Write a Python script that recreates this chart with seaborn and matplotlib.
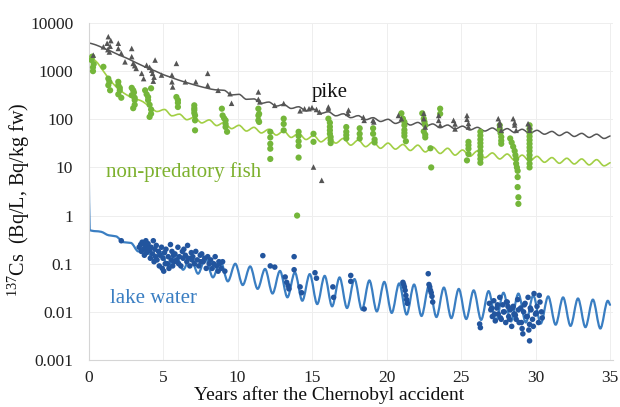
import matplotlib
matplotlib.use("Agg")
import matplotlib.pyplot as plt
from matplotlib.path import Path
from matplotlib.patches import PathPatch
import seaborn as sns
import numpy as np

# ---------------- data ----------------
# model line: lake water (Bq/L) - extrema of the seasonal wave
water_line_t = [0, 0.08, 0.85, 1.35, 1.85, 2.35, 2.85, 3.35, 3.85, 4.35, 4.85, 5.35, 5.85, 6.35,
                6.85, 7.35, 7.85, 8.35, 8.85, 9.35, 9.85, 10.35, 10.85, 11.35, 11.85, 12.35,
                12.85, 13.35, 13.85, 14.35, 14.85, 15.35, 15.85, 16.35, 16.85, 17.35, 17.85,
                18.35, 18.85, 19.35, 19.85, 20.35, 20.85, 21.35, 21.85, 22.35, 22.85, 23.35,
                23.85, 24.35, 24.85, 25.35, 25.85, 26.35, 26.85, 27.35, 27.85, 28.35, 28.85,
                29.35, 29.85, 30.35, 30.85, 31.35, 31.85, 32.35, 32.85, 33.35, 33.85, 34.35,
                34.85, 35.0]
water_line_v = [29, 0.5, 0.46, 0.39, 0.37, 0.28, 0.27, 0.18, 0.21, 0.12, 0.175, 0.09, 0.155, 0.075,
                0.14, 0.062, 0.13, 0.052, 0.115, 0.043, 0.1, 0.036, 0.088, 0.03, 0.078, 0.024,
                0.071, 0.02, 0.066, 0.017, 0.061, 0.0145, 0.056, 0.013, 0.052, 0.012, 0.048,
                0.011, 0.045, 0.0102, 0.042, 0.0095, 0.039, 0.0088, 0.037, 0.0082, 0.035, 0.0078,
                0.032, 0.0074, 0.03, 0.0071, 0.028, 0.0068, 0.027, 0.0066, 0.025, 0.0063, 0.024,
                0.006, 0.022, 0.0057, 0.021, 0.0054, 0.02, 0.0051, 0.019, 0.0048, 0.018, 0.0045,
                0.017, 0.014]

# model line: pike (Bq/kg fw)
pike_line_t = [0, 0.03, 0.5, 1, 1.5, 2, 2.5, 3, 3.5, 4, 4.5, 5, 5.5, 6, 6.5, 7, 7.5, 8, 8.5,
               9.1, 9.6, 10.1, 10.6, 11.1, 11.6, 12.1, 12.6, 13.1, 13.6, 14.1, 14.6, 15.1, 15.6,
               16.1, 16.6, 17.1, 17.6, 18.1, 18.6, 19.1, 19.6, 20.1, 20.6, 21.1, 21.6, 22.1, 22.6,
               23.1, 23.6, 24.1, 24.6, 25.1, 25.6, 26.1, 26.6, 27.1, 27.6, 28.1, 28.6, 29.1, 29.6,
               30.1, 30.6, 31.1, 31.6, 32.1, 32.6, 33.1, 33.6, 34.1, 34.6, 35.0]
pike_line_v = [900, 3800, 3500, 3000, 2600, 2200, 1900, 1600, 1350, 1150, 1000, 850, 750, 660,
               590, 530, 480, 440, 410, 400, 320, 330, 260, 265, 215, 228, 188, 203, 168, 182,
               150, 162, 133, 143, 118, 130, 108, 119, 98, 108, 90, 100, 82, 92, 76, 86, 71, 80,
               67, 76, 63, 72, 60, 68, 57, 66, 55, 64, 53, 62, 51, 59, 49, 56, 46, 54, 44, 51,
               42, 49, 40, 45]

# model line: non-predatory fish (Bq/kg fw)
fish_line_t = [0, 0.03, 0.5, 1.0, 1.5, 2.0, 2.5, 3.0, 3.5, 4.1, 4.6, 5.1, 5.6, 6.1, 6.6, 7.1,
               7.6, 8.1, 8.6, 9.1, 9.6, 10.1, 10.6, 11.1, 11.6, 12.1, 12.6, 13.1, 13.6, 14.1,
               14.6, 15.1, 15.6, 16.1, 16.6, 17.1, 17.6, 18.1, 18.6, 19.1, 19.6, 20.1, 20.6,
               21.1, 21.6, 22.1, 22.6, 23.1, 23.6, 24.1, 24.6, 25.1, 25.6, 26.1, 26.6, 27.1,
               27.6, 28.1, 28.6, 29.1, 29.6, 30.1, 30.6, 31.1, 31.6, 32.1, 32.6, 33.1, 33.6,
               34.1, 34.6, 35.0]
fish_line_v = [400, 2000, 1600, 1000, 620, 430, 330, 275, 245, 185, 145, 160, 118, 128, 98, 110,
               84, 97, 74, 86, 64, 75, 57, 68, 52, 62, 47, 57, 42, 51, 38, 46, 34, 42, 32, 40,
               29, 37, 27, 34, 25, 32, 24, 30, 22.5, 29, 21, 26.5, 19.5, 25, 18, 23, 17, 22,
               16, 20, 15, 19, 14, 18, 13.5, 17, 12.8, 16, 12.2, 15.5, 11.8, 15, 11.3, 14.5,
               10.8, 12.5]

# measurements: pike
pike_t = [0.32, 1.0, 1.25, 1.33, 1.3, 1.4, 1.45, 1.5, 2.0, 2.0, 2.2, 2.45, 2.9, 2.9, 3.0, 3.2,
          3.1, 3.57, 3.7, 3.9, 4.24, 4.3, 4.4, 4.1, 4.35, 4.47, 4.9, 5.6, 5.6, 5.65, 5.9, 6.5,
          7.2, 8.0, 8.0, 8.7, 9.5, 9.6, 11.4, 11.4, 11.5, 12.5, 13.1, 14.2, 14.5, 14.8, 15.0,
          15.3, 15.1, 15.65, 15.5, 16.1, 16.1, 17.4, 17.45, 18.45, 18.5, 19.1, 19.15, 20.8,
          21.0, 22.5, 22.5, 22.6, 23.5, 23.5, 23.6, 24.5, 24.6, 24.6, 25.4, 25.4, 25.5, 25.5,
          27.5, 27.6, 27.6, 27.7, 28.5, 28.6, 28.6, 28.7, 29.5, 29.6, 29.6]
pike_v = [2150, 3200, 3800, 5200, 2800, 2500, 3300, 4300, 3800, 2960, 2350, 1560, 2960, 2000,
          1450, 1140, 1300, 900, 700, 1330, 1050, 900, 750, 1200, 620, 1700, 830, 830, 600, 470,
          1450, 600, 600, 900, 510, 400, 340, 215, 370, 260, 230, 195, 213, 150, 165, 166, 175,
          160, 10.2, 5.4, 141, 166, 180, 133, 155, 110, 95, 95, 88, 120, 103, 133, 103, 69,
          120, 95, 75, 95, 80, 63, 120, 100, 82, 69, 103, 85, 76, 59, 103, 85, 76, 59, 81, 70, 59]

# measurements: non-predatory fish
fish_t = [0.2, 0.3, 0.3, 0.35, 0.25, 1.0, 1.33, 1.33, 1.45, 1.4, 2.0, 2.0, 2.1, 2.0, 2.2, 2.1,
          2.9, 3.0, 2.9, 3.1, 3.1, 3.0, 3.05, 3.1, 3.8, 3.9, 4.0, 4.1, 4.2, 4.1, 4.0, 4.2, 4.2,
          5.9, 6.0, 6.0, 6.0, 7.1, 7.1, 7.15, 7.15, 7.15, 7.1, 7.1, 8.95, 9.0, 9.2, 9.2, 9.3,
          9.1, 9.2, 11.4, 11.4, 11.4, 11.45, 11.45, 12.2, 12.2, 12.2, 12.2, 12.2, 13.1, 13.1,
          13.1, 14.1, 14.1, 14.1, 14.1, 14.1, 14.0, 15.1, 15.1, 16.1, 16.2, 16.2, 16.2, 16.25,
          16.25, 16.2, 16.25, 17.3, 17.3, 17.3, 17.3, 18.2, 18.2, 18.2, 19.1, 19.1, 19.2, 19.2,
          21.0, 21.1, 21.2, 21.2, 21.2, 21.3, 21.2, 21.2, 22.4, 22.5, 22.6, 22.5, 22.6, 22.55,
          22.6, 22.95, 23.0, 23.6, 23.6, 25.5, 25.5, 25.5, 25.4, 25.5, 26.3, 26.3, 26.3, 26.3,
          26.3, 26.3, 26.3, 26.3, 26.3, 27.6, 27.6, 27.65, 27.7, 27.7, 27.7, 28.3, 28.4, 28.5,
          28.6, 28.65, 28.7, 28.7, 28.75, 28.8, 28.8, 28.8, 28.85, 28.85, 29.6, 29.6, 29.6,
          29.6, 29.6, 29.6, 29.6, 29.6, 29.6, 29.6, 29.6, 29.6]
fish_v = [1700, 1200, 1000, 1400, 2000, 1230, 700, 510, 400, 600, 600, 510, 400, 330, 280, 450,
          450, 400, 316, 250, 200, 170, 360, 280, 400, 330, 250, 200, 130, 112, 290, 160, 440,
          290, 250, 180, 220, 195, 155, 120, 95, 59, 170, 135, 166, 120, 95, 69, 55, 105, 80,
          166, 120, 95, 130, 88, 55, 31, 24.5, 15, 42, 103, 59, 80, 55, 35, 16, 45, 28, 1.0, 50,
          34, 103, 85, 59, 50, 43, 37, 70, 32, 69, 55, 40, 47, 65, 50, 40, 65, 50, 38, 33, 133,
          103, 75, 60, 45, 35, 88, 52, 133, 103, 75, 56, 42, 88, 48, 25, 10, 166, 130, 34, 24.5,
          19, 14, 29, 55, 46, 38, 32, 27, 22, 18, 15, 12.5, 75, 63, 52, 43, 36, 31, 40, 33, 27,
          22, 18, 15, 12, 10, 8.5, 6.3, 3.9, 2.4, 1.75, 75, 63, 52, 44, 37, 31, 26, 22, 18, 15,
          12, 10]

# measurements: lake water
water_t = [2.2,
           3.4, 3.5, 3.55, 3.6, 3.7, 3.75, 3.8, 3.85, 3.9, 3.95,
           4.0, 4.1, 4.15, 4.2, 4.3, 4.35, 4.4, 4.45, 4.5, 4.55,
           4.6, 4.7, 4.75, 4.8, 4.9, 4.95, 5.0, 5.05, 5.1, 5.15,
           5.2, 5.3, 5.35, 5.4, 5.5, 5.55, 5.6, 5.65, 5.7, 5.75,
           5.8, 5.9, 6.0, 6.05, 6.1, 6.2, 6.3, 6.35,
           6.4, 6.5, 6.6, 6.65, 6.7, 6.8, 6.9, 6.95,
           7.0, 7.1, 7.2, 7.3, 7.4, 7.5, 7.55,
           7.6, 7.7, 7.8, 7.9, 8.0, 8.1,
           8.2, 8.3, 8.4, 8.5, 8.6, 8.7, 8.75,
           8.8, 8.9, 9.0, 9.15,
           11.7, 12.2, 12.5, 13.2, 13.3, 13.4, 13.45, 13.8, 13.8, 14.2, 14.3, 15.2, 15.3,
           16.4, 16.45, 17.6, 17.6, 18.5,
           21.1, 21.15, 21.2, 21.25, 21.3, 21.35, 21.4,
           22.8, 22.85, 22.9, 22.95, 23.0, 23.05, 23.1,
           26.25, 26.3,
           26.9, 27.0, 27.1, 27.2, 27.3, 27.4, 27.5, 27.6, 27.7, 27.8, 27.9, 28.0, 28.1, 28.2,
           28.3, 28.4, 28.5, 28.6, 28.7, 28.8, 28.9, 29.0, 29.1, 29.2, 29.3, 29.4, 29.5, 29.6,
           29.7, 29.8, 29.9, 30.0, 30.1, 30.2, 30.3, 30.4,
           27.05, 27.25, 27.45, 27.65, 27.85, 28.05, 28.25, 28.45, 28.65, 28.85, 29.05, 29.25,
           29.45, 29.65, 29.85, 30.05, 30.25, 30.45, 28.15, 28.55, 29.15, 29.55, 29.6]
water_v = [0.3,
           0.22, 0.25, 0.18, 0.28, 0.2, 0.15, 0.24, 0.3, 0.17, 0.21,
           0.26, 0.19, 0.13, 0.22, 0.16, 0.3, 0.11, 0.2, 0.14, 0.24,
           0.12, 0.18, 0.09, 0.15, 0.22, 0.08, 0.13, 0.07, 0.17, 0.1,
           0.2, 0.1, 0.14, 0.08, 0.25, 0.12, 0.18, 0.09, 0.15, 0.11,
           0.16, 0.12, 0.22, 0.1, 0.14, 0.09, 0.18, 0.13,
           0.2, 0.15, 0.11, 0.24, 0.13, 0.09, 0.17, 0.12,
           0.14, 0.1, 0.18, 0.12, 0.09, 0.15, 0.11,
           0.16, 0.11, 0.13, 0.08, 0.14, 0.1,
           0.12, 0.08, 0.1, 0.14, 0.09, 0.07, 0.11,
           0.1, 0.08, 0.11, 0.07,
           0.147, 0.09, 0.085, 0.053, 0.041, 0.035, 0.03, 0.14, 0.075, 0.033, 0.025, 0.065,
           0.05, 0.033, 0.02, 0.057, 0.043, 0.0115,
           0.041, 0.037, 0.033, 0.028, 0.022, 0.018, 0.015,
           0.062, 0.037, 0.033, 0.028, 0.025, 0.021, 0.016,
           0.0056, 0.0047,
           0.015, 0.011, 0.008, 0.017, 0.0065, 0.012, 0.009, 0.02, 0.007, 0.014, 0.01, 0.006,
           0.016, 0.008, 0.011, 0.005, 0.013, 0.009, 0.007, 0.018, 0.006, 0.012, 0.0045, 0.01,
           0.015, 0.008, 0.02, 0.0055, 0.011, 0.007, 0.024, 0.009, 0.013, 0.006, 0.016, 0.01,
           0.012, 0.009, 0.014, 0.0075, 0.01, 0.016, 0.007, 0.012, 0.0085, 0.011, 0.006, 0.014,
           0.008, 0.012, 0.005, 0.0095, 0.022, 0.0075, 0.013, 0.009, 0.0035, 0.0042, 0.0025]

x_ticks = [0, 5, 10, 15, 20, 25, 30, 35]
y_ticks = [0.001, 0.01, 0.1, 1, 10, 100, 1000, 10000]
y_tick_labels = ["0.001", "0.01", "0.1", "1", "10", "100", "1000", "10000"]

# ---------------- style ----------------
sns.set_theme(style="white")
plt.rcParams["font.family"] = ["Liberation Serif", "DejaVu Serif"]
plt.rcParams["mathtext.fontset"] = "custom"
plt.rcParams["mathtext.rm"] = "Liberation Serif"

GREY = "#555555"
FISH_LINE = "#A2CF45"
FISH_PT = "#74B63A"
FISH_TXT = "#7DB12E"
WATER_LINE = "#3A7EC2"
WATER_PT = "#22559E"


def smooth_line(ax, xs, ys, color, lw, zorder=2):
    """Draw a smoothed line (like a spreadsheet 'smoothed line') through the
    given points, with monotone cubic Bezier segments in log-y space."""
    x = np.asarray(xs, float)
    ly = np.log10(np.asarray(ys, float))
    h = np.diff(x)
    d = np.diff(ly) / h
    n = len(x)
    m = np.zeros(n)
    m[0], m[-1] = d[0], d[-1]
    for i in range(1, n - 1):
        if d[i - 1] * d[i] <= 0:
            m[i] = 0.0
        else:
            w1 = 2 * h[i] + h[i - 1]
            w2 = h[i] + 2 * h[i - 1]
            m[i] = (w1 + w2) / (w1 / d[i - 1] + w2 / d[i])
    verts = [(x[0], 10 ** ly[0])]
    codes = [Path.MOVETO]
    for i in range(n - 1):
        c1 = (x[i] + h[i] / 3, 10 ** (ly[i] + m[i] * h[i] / 3))
        c2 = (x[i + 1] - h[i] / 3, 10 ** (ly[i + 1] - m[i + 1] * h[i] / 3))
        verts += [c1, c2, (x[i + 1], 10 ** ly[i + 1])]
        codes += [Path.CURVE4] * 3
    patch = PathPatch(Path(verts, codes), facecolor="none", edgecolor=color, lw=lw,
                      joinstyle="round", capstyle="round", zorder=zorder)
    ax.add_patch(patch)


fig = plt.figure(figsize=(6.2, 4.07), dpi=100)
ax = fig.add_axes([88.5 / 620, 1 - 360 / 407, (613 - 88.5) / 620, (360 - 23) / 407])
ax.set_yscale("log")

smooth_line(ax, water_line_t, water_line_v, WATER_LINE, 1.6)
smooth_line(ax, pike_line_t, pike_line_v, GREY, 1.1)
smooth_line(ax, fish_line_t, fish_line_v, FISH_LINE, 1.2)

sns.scatterplot(x=water_t, y=water_v, ax=ax, color=WATER_PT, s=16, marker="o",
                edgecolor="none", zorder=3)
sns.scatterplot(x=fish_t, y=fish_v, ax=ax, color=FISH_PT, s=20, marker="o",
                edgecolor="none", zorder=3)
sns.scatterplot(x=pike_t, y=pike_v, ax=ax, color=GREY, s=16, marker="^",
                edgecolor="none", zorder=4)

ax.set_xlim(0, 35.2)
ax.set_ylim(0.001, 10000)
ax.set_xticks(x_ticks)
ax.set_xticklabels([str(v) for v in x_ticks])
ax.set_yticks(y_ticks)
ax.set_yticklabels(y_tick_labels)
ax.minorticks_off()
ax.tick_params(axis="both", length=0, labelsize=12.5, colors="#222222")
ax.tick_params(axis="y", pad=11)
ax.tick_params(axis="x", pad=7)

ax.grid(True, color="#EEEEEE", lw=0.7)
ax.set_axisbelow(True)
for side in ["top", "right"]:
    ax.spines[side].set_visible(False)
for side in ["left", "bottom"]:
    ax.spines[side].set_color("#D5D5D5")
    ax.spines[side].set_linewidth(0.8)

ax.set_xlabel("Years after the Chernobyl accident", fontsize=14, color="#111111")
ax.xaxis.set_label_coords(0.4585, -0.077)
ax.set_ylabel(r"$^{137}$Cs  (Bq/L, Bq/kg fw)", fontsize=14.5, color="#111111")
ax.yaxis.set_label_coords(-0.108, 0.475)

ax.text(16.2, 363, "pike", fontsize=15, color="#111111", ha="center", va="center")
ax.text(1.2, 7.9, "non-predatory fish", fontsize=15, color=FISH_TXT, ha="left", va="center")
ax.text(1.45, 0.0194, "lake water", fontsize=15, color=WATER_LINE, ha="left", va="center")

fig.savefig("out.png", dpi=100)
